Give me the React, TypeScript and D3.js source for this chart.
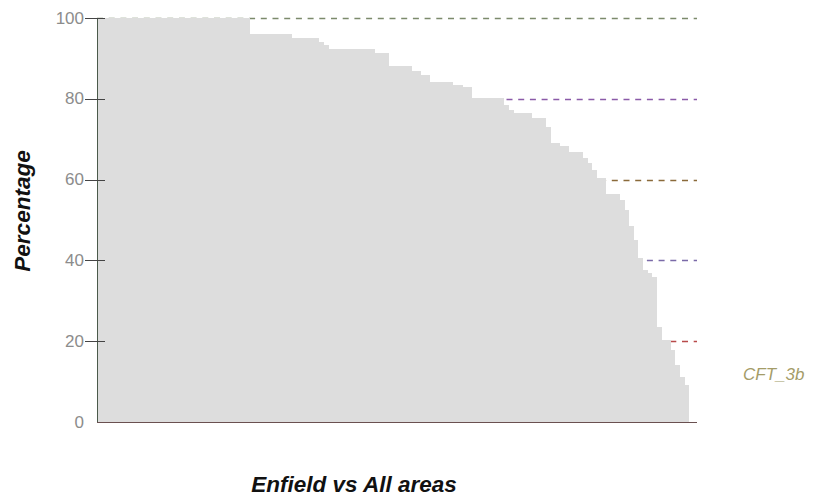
import React from "react";
import * as d3 from "d3";

// Sorted percentages, one per area
const values: number[] = [
  100, 100, 100, 100, 100, 100, 100, 100, 100, 100,
  100, 100, 100, 100, 100, 100, 100, 100, 100, 100,
  100, 100, 100, 100, 100, 100, 100, 100, 100, 100,
  100, 100, 100,
  96, 96, 96, 96, 96, 96, 96, 96, 96,
  95, 95, 95, 95, 95, 95,
  94, 93.4,
  92.3, 92.3, 92.3, 92.3, 92.3, 92.3, 92.3, 92.3, 92.3, 92.3,
  91.3, 91.3, 91.3,
  88.1, 88.1, 88.1, 88.1, 88.1,
  86.9, 86.9,
  85.9, 85.9,
  84.1, 84.1, 84.1, 84.1, 84.1,
  83.4, 83.4,
  82.8, 82.8,
  80.1, 80.1, 80.1, 80.1, 80.1, 80.1, 80.1,
  78.5, 77.2,
  76.4, 76.4, 76.4, 76.4,
  75.2, 75.2, 75.2,
  73.1,
  69, 69,
  68.2, 68.2,
  66.9, 66.9, 66.9,
  65.3, 64.1, 62.4,
  60.4, 60.4,
  56.4, 56.4, 56.4,
  55, 52.5, 48.5, 45, 40.6, 37.6, 37, 36,
  23.6, 20.3, 20.3, 17.8, 14.1, 11.2, 9.2,
];

const yTicks: number[] = [0, 20, 40, 60, 80, 100];
const gridValues: number[] = [20, 40, 60, 80, 100];
const gridColors: string[] = ["#b84a4a", "#7a6aa8", "#8a6a3a", "#8a5aa8", "#7c8a6c"];
const yAxisTitle = "Percentage";
const xAxisTitle = "Enfield vs All areas";
const sideLabel = "CFT_3b";

export default function App() {
  const left = 97;
  const barsRight = 689;
  const axisRight = 697;
  const top = 18;
  const bottom = 422;

  const y = d3.scaleLinear().domain([0, 100]).range([bottom, top]);
  const x = d3
    .scaleBand<number>()
    .domain(values.map((_, i) => i))
    .range([left, barsRight])
    .padding(0);

  const font = "'Liberation Sans', Arial, sans-serif";

  return (
    <svg
      width={815}
      height={499}
      style={{ position: "absolute", left: 0, top: 0, background: "#fff" }}
      fontFamily={font}
    >
      {/* gridlines */}
      {gridValues.map((v, i) => (
        <line
          key={"g" + v}
          x1={left}
          x2={axisRight}
          y1={Math.round(y(v)) + 0.5}
          y2={Math.round(y(v)) + 0.5}
          stroke={gridColors[i]}
          strokeWidth={1.4}
          strokeDasharray="6,5.7"
        />
      ))}
      {/* bars */}
      {values.map((v, i) => (
        <rect
          key={i}
          x={x(i)}
          y={y(v)}
          width={x.bandwidth() + 0.3}
          height={bottom - y(v)}
          fill="#dddddd"
          shapeRendering="crispEdges"
        />
      ))}
      {/* y axis */}
      <line x1={left + 0.5} x2={left + 0.5} y1={top} y2={bottom} stroke="#4a5a4a" strokeWidth={1} />
      {yTicks.map((t) => (
        <g key={"t" + t}>
          {t > 0 && (
            <line
              x1={85}
              x2={105}
              y1={Math.round(y(t)) + 0.5}
              y2={Math.round(y(t)) + 0.5}
              stroke="#444"
              strokeWidth={1}
            />
          )}
          <text
            x={84}
            y={y(t)}
            textAnchor="end"
            dominantBaseline="central"
            fontSize={17}
            fill="#8c8c8c"
          >
            {t}
          </text>
        </g>
      ))}
      {/* x axis */}
      <line x1={left} x2={axisRight} y1={bottom + 0.5} y2={bottom + 0.5} stroke="#6a5050" strokeWidth={1.2} />
      {/* titles */}
      <text
        transform={`translate(30,211) rotate(-90)`}
        textAnchor="middle"
        fontSize={22.5}
        fontStyle="italic"
        fontWeight="bold"
        fill="#111"
      >
        {yAxisTitle}
      </text>
      <text
        x={354}
        y={492}
        textAnchor="middle"
        fontSize={22.5}
        fontStyle="italic"
        fontWeight="bold"
        fill="#111"
      >
        {xAxisTitle}
      </text>
      <text x={743} y={380} fontSize={17} fontStyle="italic" fill="#a49c68">
        {sideLabel}
      </text>
    </svg>
  );
}
